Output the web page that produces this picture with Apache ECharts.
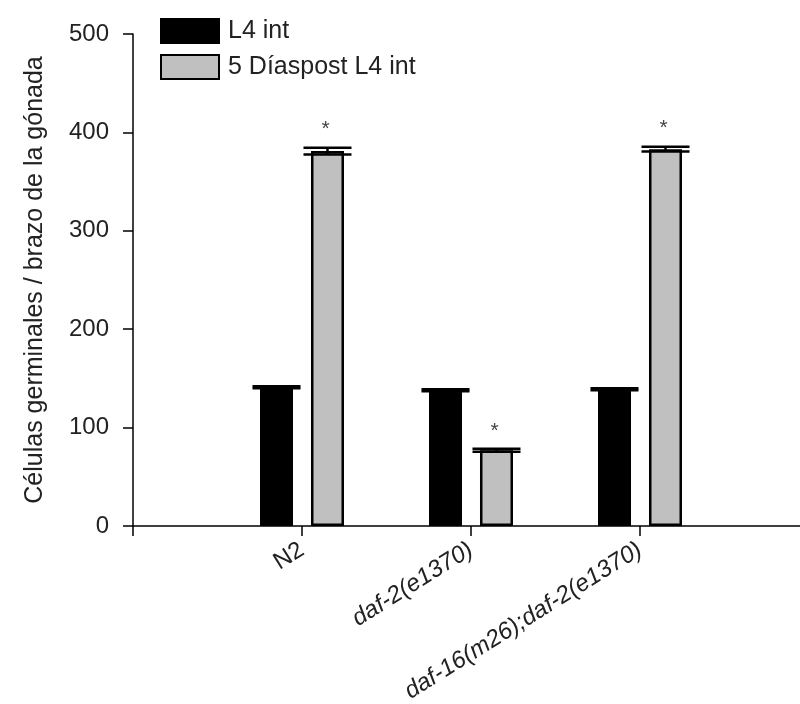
<!DOCTYPE html>
<html>
<head>
<meta charset="utf-8">
<script src="https://cdn.jsdelivr.net/npm/echarts@6/dist/echarts.min.js"></script>
<style>
  html, body { margin: 0; padding: 0; background: #fff; }
  #chart { width: 800px; height: 704px; }
</style>
</head>
<body>
<div id="chart"></div>
<script>
// Strains (blank slots pad the axis on both sides)
const categories = ['', 'N2', 'daf-2(e1370)', 'daf-16(m26);daf-2(e1370)', ''];
const seriesNames = ['L4 int', '5 Díaspost L4 int'];
// Germ cells per gonad arm: mean and error
const l4Values = [null, 141, 138, 139, null];
const l4Errors = [null, 1, 1, 1, null];
const postValues = [null, 381, 77, 383, null];
const postErrors = [null, 3.5, 1.5, 2.5, null];
const significant = [false, true, true, true, false];

const BAR_W = 33;
const BAR_GAP_PX = 18;
const OFFSET = (BAR_W + BAR_GAP_PX) / 2;
const FONT = '"Liberation Sans", Arial, sans-serif';
const FS = 24;

function errData(values, errors) {
  const out = [];
  values.forEach((v, i) => { if (v != null) out.push([i, v, errors[i], significant[i] ? 1 : 0]); });
  return out;
}

function makeErrorRenderer(offset, capW, showStar) {
  return function (params, api) {
    const idx = api.value(0), mean = api.value(1), err = api.value(2);
    const top = api.coord([idx, mean + err]);
    const bot = api.coord([idx, mean - err]);
    const cx = top[0] + offset;
    const style = { stroke: '#000', lineWidth: 2.5 };
    const children = [
      { type: 'line', shape: { x1: cx - capW / 2, y1: top[1], x2: cx + capW / 2, y2: top[1] }, style },
      { type: 'line', shape: { x1: cx - capW / 2, y1: bot[1], x2: cx + capW / 2, y2: bot[1] }, style },
      { type: 'line', shape: { x1: cx, y1: top[1], x2: cx, y2: bot[1] }, style }
    ];
    if (showStar && api.value(3)) {
      children.push({
        type: 'text',
        style: { text: '*', x: cx - 2, y: top[1] - 18, align: 'center', verticalAlign: 'middle',
                 fill: '#444', font: '21px ' + FONT }
      });
    }
    return { type: 'group', children };
  };
}

const chart = echarts.init(document.getElementById('chart'), null, { renderer: 'canvas' });
chart.setOption({
  animation: false,
  backgroundColor: '#fff',
  textStyle: { fontFamily: FONT },
  legend: {
    orient: 'vertical',
    left: 155, top: 13,
    itemWidth: 58, itemHeight: 24, itemGap: 10,
    icon: 'rect',
    data: seriesNames,
    textStyle: { fontSize: 25, color: '#222', fontFamily: FONT, padding: [0, 0, 0, 4] }
  },
  grid: { left: 133, width: 676, top: 34, bottom: 178, containLabel: false, outerBoundsMode: 'none' },
  xAxis: {
    type: 'category',
    data: categories,
    boundaryGap: false,
    axisLine: { lineStyle: { color: '#000', width: 1.5 } },
    axisTick: { show: true, alignWithLabel: true, interval: 0, length: 10, lineStyle: { color: '#000', width: 1.5 } },
    axisLabel: {
      interval: 0, rotate: 32, margin: 22,
      fontSize: FS, color: '#222', fontFamily: FONT,
      formatter: function (v) { return v === 'N2' ? '{n|' + v + '}' : '{i|' + v + '}'; },
      rich: {
        n: { fontSize: FS, color: '#222', fontFamily: FONT },
        i: { fontSize: FS, color: '#222', fontFamily: FONT, fontStyle: 'italic' }
      }
    },
    splitLine: { show: false }
  },
  yAxis: {
    type: 'value',
    min: 0, max: 500, interval: 100,
    name: 'Células germinales / brazo de la gónada',
    nameLocation: 'middle', nameRotate: 90, nameGap: 85,
    nameTextStyle: { fontSize: 25, color: '#222', fontFamily: FONT },
    axisLine: { show: true, lineStyle: { color: '#000', width: 1.5 } },
    axisTick: { show: true, length: 10, lineStyle: { color: '#000', width: 1.5 } },
    axisLabel: { fontSize: FS, color: '#222', margin: 24, fontFamily: FONT },
    splitLine: { show: false }
  },
  series: [
    {
      name: seriesNames[0], type: 'bar', data: l4Values,
      barWidth: BAR_W, barGap: (BAR_GAP_PX / BAR_W * 100).toFixed(1) + '%',
      itemStyle: { color: '#000', borderColor: '#000', borderWidth: 2 }
    },
    {
      name: seriesNames[1], type: 'bar', data: postValues,
      barWidth: BAR_W,
      itemStyle: { color: '#c0c0c0', borderColor: '#000', borderWidth: 2.5 }
    },
    {
      type: 'custom', name: 'err-l4', data: errData(l4Values, l4Errors),
      renderItem: makeErrorRenderer(-OFFSET, 48, false), z: 5,
      encode: { x: 0, y: 1 }, silent: true
    },
    {
      type: 'custom', name: 'err-post', data: errData(postValues, postErrors),
      renderItem: makeErrorRenderer(OFFSET, 48, true), z: 5,
      encode: { x: 0, y: 1 }, silent: true
    }
  ]
});
</script>
</body>
</html>
